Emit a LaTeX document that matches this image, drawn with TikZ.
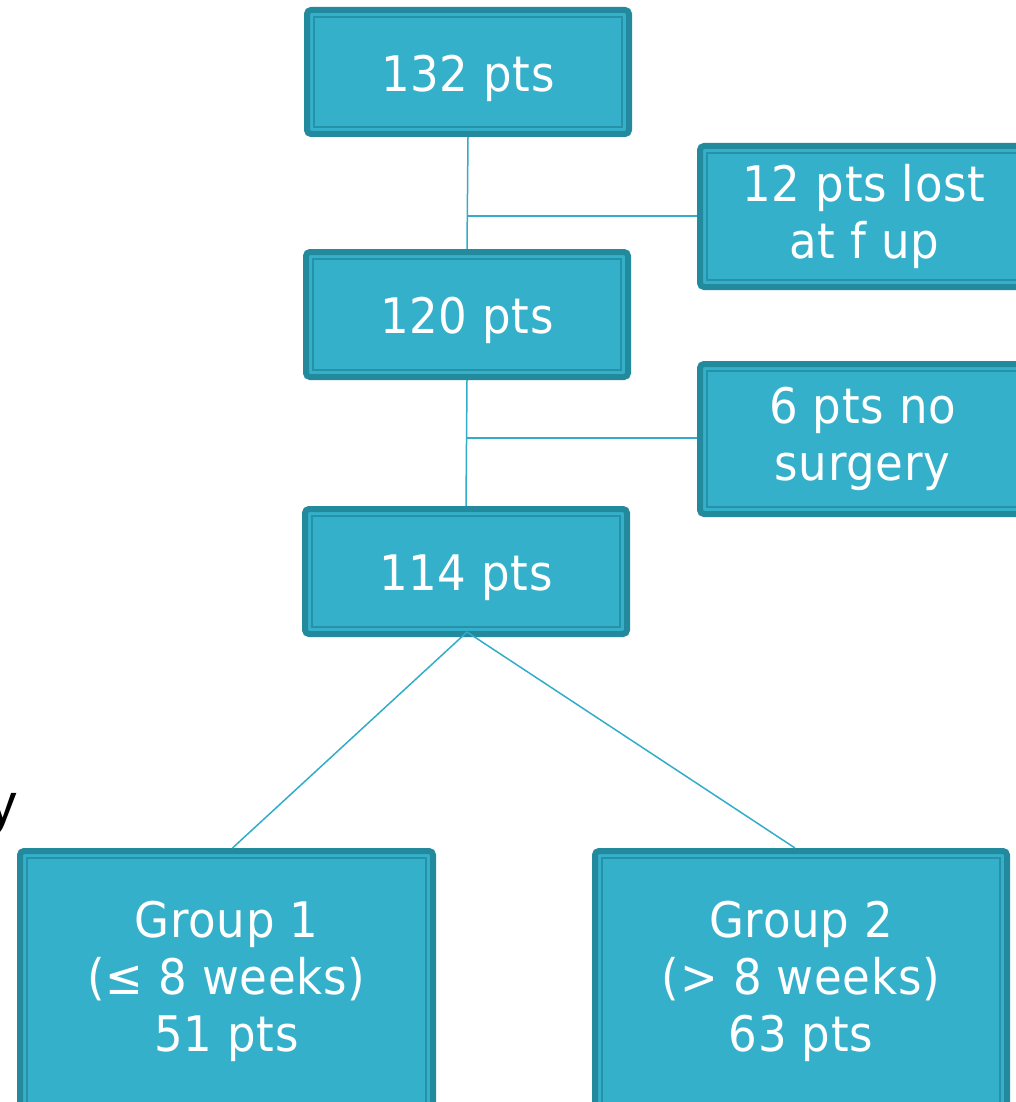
\documentclass[tikz,border=0pt]{standalone}
\usepackage{fontspec}
\usetikzlibrary{calc}
\newfontfamily\boxfont[FakeStretch=0.92,LetterSpace=1.5]{DejaVu Sans}
\newfontfamily\yfont{Liberation Sans}
\definecolor{boxfill}{RGB}{53,176,202}
\definecolor{boxdark}{RGB}{35,138,158}
\definecolor{boxthin}{RGB}{38,146,168}
\definecolor{linkcol}{RGB}{50,172,200}
\tikzset{
  box/.style={fill=boxfill, draw=boxdark, line width=6pt, outer sep=3pt,
    rounded corners=4pt, inner sep=0pt, align=center, text=white,
    font=\boxfont\fontsize{49}{57}\selectfont},
  thinframe/.style={draw=boxthin, line width=1.6pt},
  link/.style={draw=linkcol, line width=1.5pt},
}
\newcommand\innerframe[1]{\draw[thinframe] ($(#1.north west)+(10,10)$) rectangle ($(#1.south east)+(-10,-10)$);}
\newcommand\low[1]{\raisebox{-6pt}[\height][\depth]{#1}}
\begin{document}
\begin{tikzpicture}[x=1pt,y=-1pt]
\useasboundingbox (0,0) rectangle (1016,1102);
\clip (0,0) rectangle (1016,1102);
\node[box, minimum width=322, minimum height=124] (A) at (468,72) {\low{132 pts}};
\node[box, minimum width=328, minimum height=141] (B) at (864,216.5) {12 pts lost\\at f up};
\node[box, minimum width=322, minimum height=125] (C) at (467,314.5) {\low{120 pts}};
\node[box, minimum width=325, minimum height=150] (D) at (862.5,439) {6 pts no\\surgery};
\node[box, minimum width=322, minimum height=125] (E) at (466,571.5) {\low{114 pts}};
\node[box, minimum width=413, minimum height=260] (F) at (226.5,981) {Group 1\\(≤ 8 weeks)\\51 pts};
\node[box, minimum width=412, minimum height=260] (G) at (801,981) {Group 2\\(> 8 weeks)\\63 pts};
\foreach \n in {A,B,C,D,E,F,G} {\innerframe{\n}}
\node[font=\yfont\fontsize{57}{60}\selectfont, inner sep=0pt, anchor=base east] (ylab) at (17,823) {y};
% connectors
\coordinate (m1) at ($(A.south)!0.705!(C.north)$);
\coordinate (m2) at ($(C.south)!0.46!(E.north)$);
\draw[link] (A.south) -- (C.north);
\draw[link] (m1) -- (m1 -| B.west);
\draw[link] (C.south) -- (E.north);
\draw[link] (m2) -- (m2 -| D.west);
\coordinate (e0) at ($(E.south)+(1,-5)$);
\draw[link] (e0) -- ($(F.north)+(6,0)$);
\draw[link] (e0) -- ($(G.north)+(-6,0)$);
\end{tikzpicture}
\end{document}
